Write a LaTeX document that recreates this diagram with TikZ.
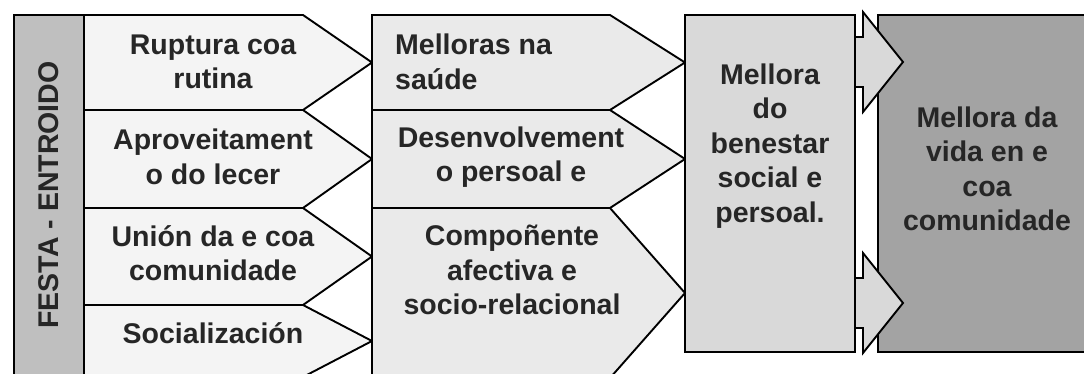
\documentclass[tikz,border=0pt]{standalone}
\usepackage{fontspec}
\setmainfont{Liberation Sans}
\definecolor{seite}{HTML}{BFBFBF}
\definecolor{stufeA}{HTML}{F4F4F4}
\definecolor{stufeB}{HTML}{EAEAEA}
\definecolor{stufeC}{HTML}{D9D9D9}
\definecolor{stufeD}{HTML}{A3A3A3}
\tikzset{
  feld/.style={draw=black, line width=1.9pt},
  beschr/.style={font=\bfseries\fontsize{28.5}{34.5}\selectfont, align=center, inner sep=0pt, text=black!85}
}
\begin{document}
\begin{tikzpicture}[x=1pt,y=-1pt]
  \useasboundingbox (0,0) rectangle (1084,374);
  % Seitenleiste
  \draw[feld,fill=seite] (14,15) rectangle (84,378);
  % erste Spalte
  \foreach \o/\u in {15/110,110/208,208/305,305/377} {
    \draw[feld,fill=stufeA] (84,\o) -- (303,\o) -- (372,{(\o+\u)/2}) -- (303,\u) -- (84,\u) -- cycle;
  }
  % zweite Spalte
  \foreach \o/\u in {15/110,110/208,208/378} {
    \draw[feld,fill=stufeB] (372,\o) -- (610,\o) -- (685,{(\o+\u)/2}) -- (610,\u) -- (372,\u) -- cycle;
  }
  % Ergebnis
  \draw[feld,fill=stufeC] (685,15) rectangle (855,352);
  \draw[feld,fill=stufeD] (878,15) rectangle (1100,352);
  % Pfeile
  \foreach \m in {62,303} {
    \draw[feld,fill=stufeC] (855,{\m-25}) -- (863,{\m-25}) -- (863,{\m-50}) -- (903,\m)
      -- (863,{\m+50}) -- (863,{\m+25}) -- (855,{\m+25}) -- cycle;
  }
  % Beschriftung
  \node[beschr,rotate=90] (festa) at (49,195) {FESTA - ENTROIDO};
  \node[beschr] (rupt) at (213,62) {Ruptura coa\\rutina};
  \node[beschr] (aprov) at (213,157) {Aproveitament\\o do lecer};
  \node[beschr] (union) at (213,253) {Unión da e coa\\comunidade};
  \node[beschr] (social) at (213,333) {Socialización};
  \node[beschr,align=left,anchor=west] (saude) at (395,62) {Melloras na\\saúde};
  \node[beschr] (desenv) at (511,157) {Desenvolvement\\o persoal e};
  \node[beschr] (compo) at (512,270) {Compoñente\\afectiva e\\socio-relacional};
  \node[beschr] (benestar) at (770,146) {Mellora\\do\\benestar\\social e\\persoal.};
  \node[beschr] (vida) at (987,169) {Mellora da\\vida en e\\coa\\comunidade};
\end{tikzpicture}
\end{document}
